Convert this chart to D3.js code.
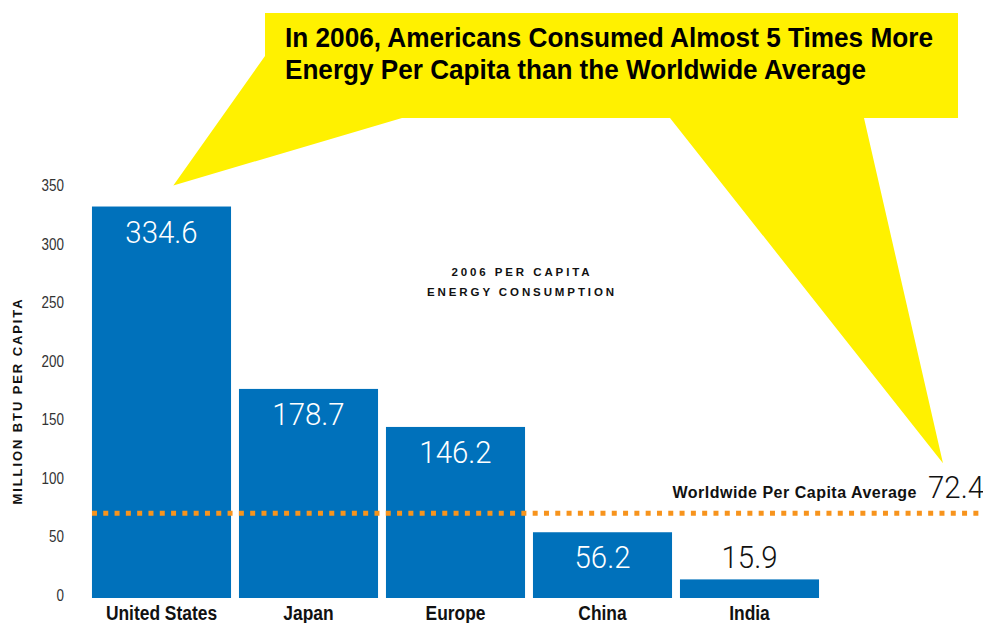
<!DOCTYPE html>
<html>
<head>
<meta charset="utf-8">
<script src="https://cdn.jsdelivr.net/npm/d3@7"></script>
<style>
  body { margin: 0; background: #fff; }
  svg { display: block; }
</style>
</head>
<body>
<svg id="chart" width="983" height="623"></svg>
<script>
// Per-capita energy use, 2006 (million BTU per person)
const regions = ["United States", "Japan", "Europe", "China", "India"];
const perCapita = [334.6, 178.7, 146.2, 56.2, 15.9];
const worldAverage = 72.4;
const yTicks = [0, 50, 100, 150, 200, 250, 300, 350];

const headline = [
  "In 2006, Americans Consumed Almost 5 Times More",
  "Energy Per Capita than the Worldwide Average"
];
const subtitle = ["2006 PER CAPITA", "ENERGY CONSUMPTION"];
const yTitle = "MILLION BTU PER CAPITA";
const averageLabel = "Worldwide Per Capita Average";

const W = 983, H = 623;
const BLUE = "#0071bb", YELLOW = "#fff100", ORANGE = "#f7941d";
const SANS = "'Liberation Sans',Arial,sans-serif";
const LIGHT = "Roboto,'Noto Sans',sans-serif";

const svg = d3.select("#chart");
svg.append("rect").attr("width", W).attr("height", H).attr("fill", "#fff");

const x = d3.scaleBand()
  .domain(regions)
  .range([88, 823])
  .paddingInner(0.054)
  .paddingOuter(0.027);

const y = d3.scaleLinear()
  .domain([0, 350])
  .range([598, 188.5]);

const rows = regions.map((r, i) => ({ region: r, value: perCapita[i] }));

// Speech-bubble callout with two pointers: one to the US bar, one to the world average
const usTip = [x("United States") + x.bandwidth() * 0.585, y(perCapita[0]) - 21];
const avgTip = [943, y(worldAverage) - 50];
const bubble = [
  [265, 13], [958, 13], [958, 118], [864, 118],
  avgTip,
  [670, 118], [402, 118],
  usTip,
  [265, 56]
];
svg.append("path")
  .attr("d", d3.line()(bubble) + "Z")
  .attr("fill", YELLOW);

svg.append("g")
  .selectAll("text")
  .data(headline)
  .join("text")
  .attr("x", 285)
  .attr("y", (d, i) => 47 + i * 32)
  .attr("font-family", SANS)
  .attr("font-weight", "bold")
  .attr("font-size", 28)
  .attr("fill", "#000")
  .attr("textLength", (d, i) => [648, 581][i])
  .attr("lengthAdjust", "spacingAndGlyphs")
  .text(d => d);

// Bars
svg.append("g")
  .selectAll("rect")
  .data(rows)
  .join("rect")
  .attr("x", d => x(d.region))
  .attr("y", d => y(d.value))
  .attr("width", x.bandwidth())
  .attr("height", d => y(0) - y(d.value))
  .attr("fill", BLUE);

// Value labels: inside the bar when it is tall enough, otherwise above it
svg.append("g")
  .selectAll("text")
  .data(rows)
  .join("text")
  .attr("transform", d => {
    const inside = y(0) - y(d.value) > 40;
    const ty = inside ? y(d.value) + 36 : y(d.value) - 11;
    return `translate(${x(d.region) + x.bandwidth() / 2},${ty}) scale(0.92,1)`;
  })
  .attr("text-anchor", "middle")
  .attr("font-family", LIGHT)
  .attr("font-weight", 300)
  .attr("font-size", 32)
  .attr("fill", d => (y(0) - y(d.value) > 40) ? "#fff" : "#111")
  .text(d => d.value.toFixed(1));

// Y axis (labels only, condensed)
const yAxis = svg.append("g")
  .attr("transform", "translate(64,0)")
  .call(d3.axisLeft(y).tickValues(yTicks).tickSize(0).tickPadding(0));
yAxis.select(".domain").remove();
yAxis.selectAll("text")
  .attr("dy", "0.32em")
  .attr("transform", "translate(0,-3) scale(0.84,1)")
  .attr("font-family", SANS)
  .attr("font-size", 16)
  .attr("fill", "#333");

svg.append("text")
  .attr("transform", "translate(22,401) rotate(-90)")
  .attr("text-anchor", "middle")
  .attr("font-family", SANS)
  .attr("font-weight", "bold")
  .attr("font-size", 13)
  .attr("letter-spacing", 1.9)
  .attr("fill", "#111")
  .text(yTitle);

// X axis (category labels only, condensed)
const xAxis = svg.append("g")
  .attr("transform", `translate(0,${y(0)})`)
  .call(d3.axisBottom(x).tickSize(0).tickPadding(0));
xAxis.select(".domain").remove();
xAxis.selectAll("text")
  .attr("y", 0)
  .attr("dy", 0)
  .attr("transform", "translate(0,22) scale(0.87,1)")
  .attr("font-family", SANS)
  .attr("font-weight", "bold")
  .attr("font-size", 20)
  .attr("fill", "#111");

// Chart subtitle
svg.append("g")
  .selectAll("text")
  .data(subtitle)
  .join("text")
  .attr("x", 522)
  .attr("y", (d, i) => 276 + i * 20)
  .attr("text-anchor", "middle")
  .attr("font-family", SANS)
  .attr("font-weight", "bold")
  .attr("font-size", 11.5)
  .attr("letter-spacing", 2.9)
  .attr("fill", "#111")
  .text(d => d);

// Worldwide average reference line
svg.append("line")
  .attr("x1", x.range()[0] + x.step() * x.paddingOuter())
  .attr("x2", W)
  .attr("y1", y(worldAverage))
  .attr("y2", y(worldAverage))
  .attr("stroke", ORANGE)
  .attr("stroke-width", 5)
  .attr("stroke-dasharray", "5 6.3");

svg.append("text")
  .attr("transform", `translate(984,${y(worldAverage) - 15}) scale(0.92,1)`)
  .attr("text-anchor", "end")
  .attr("font-family", LIGHT)
  .attr("font-weight", 300)
  .attr("font-size", 32)
  .attr("fill", "#111")
  .text(worldAverage.toFixed(1));

svg.append("text")
  .attr("x", 917)
  .attr("y", y(worldAverage) - 15)
  .attr("text-anchor", "end")
  .attr("font-family", SANS)
  .attr("font-weight", "bold")
  .attr("font-size", 16)
  .attr("letter-spacing", 0.5)
  .attr("fill", "#111")
  .text(averageLabel);
</script>
</body>
</html>
